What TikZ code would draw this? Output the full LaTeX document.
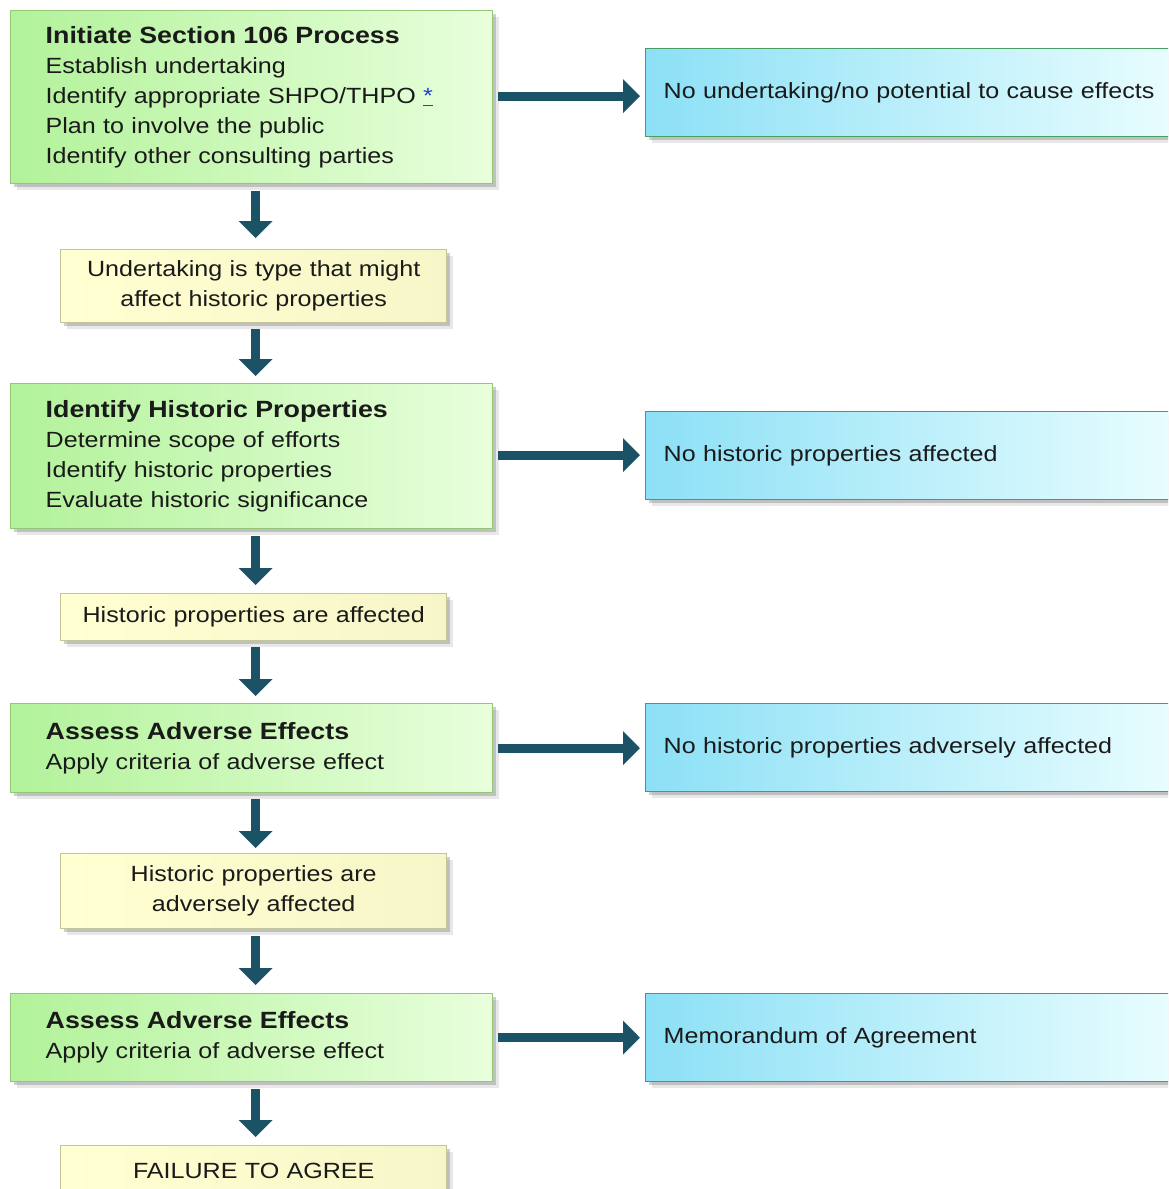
\documentclass[tikz,border=0pt]{standalone}
\usepackage{fontspec}
\setmainfont[FakeStretch=1.14]{Liberation Sans}
\usetikzlibrary{shadows,arrows.meta}
\definecolor{grnL}{HTML}{B2F29A}
\definecolor{grnR}{HTML}{E8FFDC}
\definecolor{grnB}{HTML}{94C878}
\definecolor{bluL}{HTML}{8CE0F6}
\definecolor{bluR}{HTML}{EEFFFF}
\definecolor{bluB}{HTML}{4A9E64}
\definecolor{yelL}{HTML}{FFFFD2}
\definecolor{yelR}{HTML}{F6F6C8}
\definecolor{yelB}{HTML}{C4C49A}
\definecolor{arrC}{HTML}{1B5266}
\definecolor{txtC}{HTML}{1A1A1A}
\definecolor{linkC}{HTML}{2A3FD0}
\begin{document}
\begin{tikzpicture}[x=1pt,y=-1pt,
  boxbase/.style={anchor=north west, line width=1.4pt, text=txtC,
    font=\fontsize{22}{30}\selectfont,
    drop shadow={shadow xshift=6pt, shadow yshift=-6pt, opacity=0.15, fill=black!60},
    drop shadow={shadow xshift=3.5pt, shadow yshift=-3.5pt, opacity=0.3, fill=black!60}},
  greenbox/.style={boxbase, draw=grnB, left color=grnL, right color=grnR,
    minimum width=482pt, text width=412pt, inner xsep=35pt, inner ysep=0pt,
    minimum height=#1, align=left},
  bluebox/.style={boxbase, draw=bluB, left color=bluL, right color=bluR,
    minimum width=560pt, text width=524pt, inner xsep=18pt, inner ysep=0pt,
    minimum height=#1, align=left},
  yelbox/.style={boxbase, draw=yelB, left color=yelL, right color=yelR,
    minimum width=386pt, text width=366pt, inner xsep=10pt, inner ysep=0pt,
    minimum height=#1, align=center},
  flowarrow/.style={draw=arrC, line width=9pt,
    -{Triangle[width=33pt,length=17pt]}}
]
\useasboundingbox (0,0) rectangle (1168,1189);
\clip (0,0) rectangle (1168,1189);
\fill[white] (0,0) rectangle (1168,1189);

% left column
\node[greenbox=173pt] (g1) at (10,10)
  {{\fontsize{23.5}{30}\selectfont\bfseries Initiate  Section 106 Process}\\
   Establish undertaking\\
   Identify appropriate SHPO/THPO \textcolor{linkC}{\underline{*}}\\
   Plan to involve the public\\
   Identify other consulting parties};
\node[yelbox=73pt] (y1) at (60,249)
  {Undertaking is type that might\\affect historic properties};
\node[greenbox=145pt] (g2) at (10,383)
  {{\fontsize{23.5}{30}\selectfont\bfseries Identify Historic Properties}\\
   Determine scope of efforts\\
   Identify historic properties\\
   Evaluate historic significance};
\node[yelbox=47pt] (y2) at (60,593)
  {Historic properties are affected};
\node[greenbox=89pt] (g3) at (10,703)
  {{\fontsize{23.5}{30}\selectfont\bfseries Assess Adverse Effects}\\
   Apply criteria of adverse effect};
\node[yelbox=75pt] (y3) at (60,853)
  {Historic properties are\\adversely affected};
\node[greenbox=88pt] (g4) at (10,993)
  {{\fontsize{23.5}{30}\selectfont\bfseries Assess Adverse Effects}\\
   Apply criteria of adverse effect};
\node[yelbox=50pt] (y4) at (60,1145)
  {FAILURE  TO AGREE\\[-6pt]};

% right column
\node[bluebox=88pt] (b1) at (645,48)
  {No undertaking/no potential to cause effects};
\node[bluebox=88pt] (b2) at (645,411)
  {No historic properties affected};
\node[bluebox=88pt] (b3) at (645,703)
  {No historic properties adversely affected};
\node[bluebox=88pt] (b4) at (645,993)
  {Memorandum of Agreement};

% vertical arrows
\draw[flowarrow, shorten <=7pt, shorten >=11pt] ([xshift=4pt]g1.south) -- ([xshift=4pt]g1.south |- y1.north);
\draw[flowarrow, shorten <=6pt, shorten >=7pt] ([xshift=2pt]y1.south) -- ([xshift=2pt]y1.south |- g2.north);
\draw[flowarrow, shorten <=7pt, shorten >=8pt] ([xshift=4pt]g2.south) -- ([xshift=4pt]g2.south |- y2.north);
\draw[flowarrow, shorten <=6pt, shorten >=7pt] ([xshift=2pt]y2.south) -- ([xshift=2pt]y2.south |- g3.north);
\draw[flowarrow, shorten <=6pt, shorten >=5pt] ([xshift=4pt]g3.south) -- ([xshift=4pt]g3.south |- y3.north);
\draw[flowarrow, shorten <=7pt, shorten >=8pt] ([xshift=2pt]y3.south) -- ([xshift=2pt]y3.south |- g4.north);
\draw[flowarrow, shorten <=7pt, shorten >=8pt] ([xshift=4pt]g4.south) -- ([xshift=4pt]g4.south |- y4.north);

% horizontal arrows
\draw[flowarrow, shorten <=5pt, shorten >=5pt] ([yshift=1pt]g1.east) -- ([yshift=1pt]g1.east -| b1.west);
\draw[flowarrow, shorten <=5pt, shorten >=5pt] ([yshift=1pt]g2.east) -- ([yshift=1pt]g2.east -| b2.west);
\draw[flowarrow, shorten <=5pt, shorten >=5pt] (g3.east) -- (g3.east -| b3.west);
\draw[flowarrow, shorten <=5pt, shorten >=5pt] (g4.east) -- (g4.east -| b4.west);
\end{tikzpicture}
\end{document}
